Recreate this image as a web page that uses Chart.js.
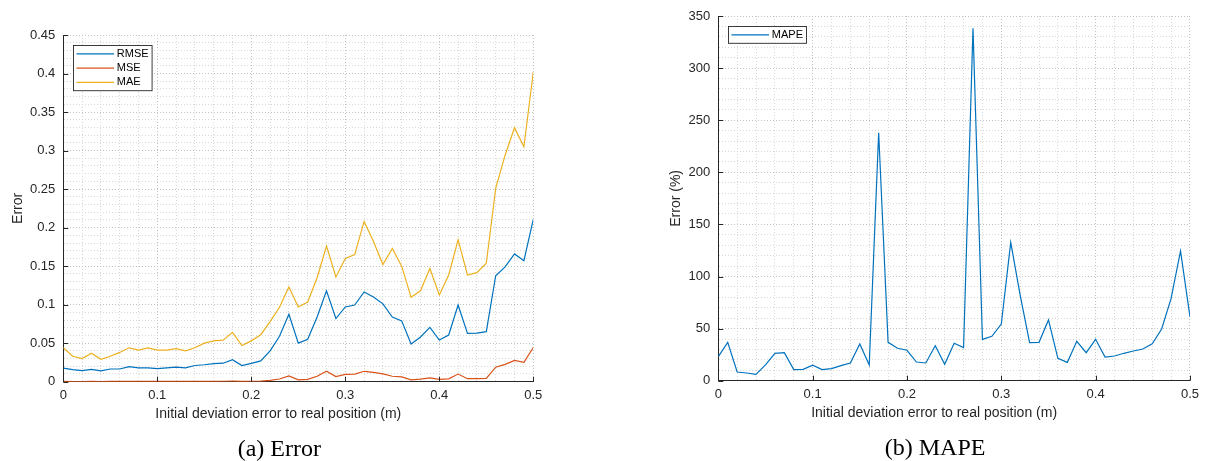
<!DOCTYPE html>
<html>
<head>
<meta charset="utf-8">
<script src="https://cdn.jsdelivr.net/npm/chart.js@4.4.1/dist/chart.umd.min.js"></script>
<style>
  html, body { margin: 0; padding: 0; background: #fff; }
  body { width: 1205px; height: 461px; position: relative; overflow: hidden; }
  .panel { position: absolute; top: 0; }
  #panelA { left: 0; }
  #panelB { left: 660px; }
</style>
</head>
<body>
<div class="panel" id="panelA"><canvas id="errorChart" width="560" height="461"></canvas></div>
<div class="panel" id="panelB"><canvas id="mapeChart" width="545" height="461"></canvas></div>
<script>
// Initial deviation (m) - shared x values of both panels
const deviation = [
    0, 0.01, 0.02, 0.03, 0.04, 0.05, 0.06, 0.07, 0.08, 0.09,
    0.1, 0.11, 0.12, 0.13, 0.14, 0.15, 0.16, 0.17, 0.18, 0.19,
    0.2, 0.21, 0.22, 0.23, 0.24, 0.25, 0.26, 0.27, 0.28, 0.29,
    0.3, 0.31, 0.32, 0.33, 0.34, 0.35, 0.36, 0.37, 0.38, 0.39,
    0.4, 0.41, 0.42, 0.43, 0.44, 0.45, 0.46, 0.47, 0.48, 0.49, 0.5
];

const rmse = [
    0.0175, 0.0156, 0.0145, 0.016, 0.014, 0.0165, 0.0165, 0.0195, 0.018, 0.018,
    0.017, 0.018, 0.019, 0.018, 0.021, 0.022, 0.0235, 0.024, 0.0285, 0.021,
    0.0238, 0.027, 0.040, 0.059, 0.0875, 0.050, 0.055, 0.084, 0.118, 0.082,
    0.097, 0.0995, 0.1164, 0.110, 0.101, 0.084, 0.079, 0.049, 0.058, 0.0706,
    0.054, 0.0606, 0.0996, 0.0628, 0.063, 0.065, 0.1376, 0.149, 0.1658, 0.157, 0.2108
];

const mse = [
    0.0003, 0.0002, 0.0002, 0.0003, 0.0002, 0.0003, 0.0003, 0.0004, 0.0003, 0.0003,
    0.0003, 0.0003, 0.0004, 0.0003, 0.0004, 0.0005, 0.0005, 0.0006, 0.0008, 0.0004,
    0.0006, 0.0007, 0.0016, 0.0035, 0.0076, 0.0025, 0.003, 0.007, 0.0137, 0.0067,
    0.0094, 0.0099, 0.0135, 0.0121, 0.0102, 0.0071, 0.0062, 0.0024, 0.0034, 0.005,
    0.0029, 0.0037, 0.0099, 0.0039, 0.004, 0.0042, 0.0188, 0.0225, 0.0277, 0.0250, 0.0444
];

const mae = [
    0.044, 0.033, 0.030, 0.037, 0.029, 0.033, 0.038, 0.044, 0.041, 0.044,
    0.041, 0.041, 0.043, 0.040, 0.044, 0.050, 0.053, 0.054, 0.064, 0.047,
    0.053, 0.061, 0.078, 0.0966, 0.123, 0.097, 0.1035, 0.135, 0.176, 0.136,
    0.160, 0.165, 0.208, 0.182, 0.152, 0.173, 0.150, 0.1095, 0.118, 0.147,
    0.1125, 0.1385, 0.184, 0.1385, 0.1415, 0.1537, 0.251, 0.294, 0.3297, 0.305, 0.402
];

const mape = [
    23.0, 36.8, 8.3, 7.4, 6.1, 15.1, 26.3, 26.9, 10.6, 10.9,
    14.8, 10.6, 11.6, 14.5, 17.0, 35.2, 15.1, 238.0, 36.8, 31.1,
    29.2, 17.9, 17.0, 33.6, 15.7, 35.9, 31.7, 338.2, 39.7, 42.6,
    54.4, 132.8, 82.2, 36.5, 36.8, 58.3, 21.5, 17.6, 37.8, 26.9,
    39.7, 22.7, 23.7, 26.3, 28.5, 30.4, 35.5, 49.6, 79.0, 124.5, 61.4
];

const xLabel = 'Initial deviation error to real position (m)';
const captionA = '(a) Error';
const captionB = '(b) MAPE';

const SANS = '"Liberation Sans", Arial, Helvetica, sans-serif';
const SERIF = '"Liberation Serif", "Times New Roman", serif';
const AXIS_COLOR = '#262626';

function points(ys) {
    return deviation.map((x, i) => ({ x: x, y: ys[i] }));
}

function isMultiple(v, step) {
    const r = v / step;
    return Math.abs(r - Math.round(r)) < 1e-6;
}

function fmt(v) {
    return String(parseFloat(v.toFixed(3)));
}

// MATLAB-ish look: inward ticks, boxed legend, x label and caption
const matlabAxes = {
    id: 'matlabAxes',
    afterDraw(chart, args, opts) {
        const { ctx, chartArea: a, scales: { x, y } } = chart;
        ctx.save();

        // inward major ticks
        ctx.strokeStyle = AXIS_COLOR;
        ctx.lineWidth = 1;
        ctx.beginPath();
        x.ticks.filter(t => isMultiple(t.value, opts.xMajor)).forEach(t => {
            const px = Math.round(x.getPixelForValue(t.value)) + 0.5;
            ctx.moveTo(px, a.bottom);
            ctx.lineTo(px, a.bottom - 5);
        });
        y.ticks.filter(t => isMultiple(t.value, opts.yMajor)).forEach(t => {
            const py = Math.round(y.getPixelForValue(t.value)) + 0.5;
            ctx.moveTo(a.left, py);
            ctx.lineTo(a.left + 5, py);
        });
        ctx.stroke();

        // legend box
        const sets = chart.data.datasets;
        ctx.font = '11px ' + SANS;
        const textW = Math.max(...sets.map(d => ctx.measureText(d.label).width));
        const lx = Math.round(a.left + 10) + 0.5;
        const ly = Math.round(a.top + 10) + 0.5;
        const rowH = 14.2;
        const w = 43.3 + textW + 3.5;
        const h = 8.4 * 2 + (sets.length - 1) * rowH;
        ctx.fillStyle = '#ffffff';
        ctx.fillRect(lx, ly, w, h);
        ctx.strokeStyle = AXIS_COLOR;
        ctx.lineWidth = 0.9;
        ctx.strokeRect(lx, ly, w, h);
        sets.forEach((d, i) => {
            const ry = ly + 8.4 + i * rowH;
            ctx.strokeStyle = d.borderColor;
            ctx.lineWidth = d.borderWidth;
            ctx.beginPath();
            ctx.moveTo(lx + 3, ry);
            ctx.lineTo(lx + 40.5, ry);
            ctx.stroke();
            ctx.fillStyle = '#000000';
            ctx.textAlign = 'left';
            ctx.textBaseline = 'middle';
            ctx.fillText(d.label, lx + 43.3, ry);
        });

        // x axis label and sub-figure caption
        const cx = (a.left + a.right) / 2 - 20;
        ctx.textAlign = 'center';
        ctx.textBaseline = 'alphabetic';
        ctx.fillStyle = AXIS_COLOR;
        ctx.font = '14px ' + SANS;
        ctx.fillText(xLabel, cx, a.bottom + 36);
        ctx.fillStyle = '#000000';
        ctx.font = '24px ' + SERIF;
        ctx.fillText(opts.caption, cx + 1, a.bottom + 74.5);
        ctx.restore();
    }
};

function gridColor(step) {
    return (c) => (c.tick && isMultiple(c.tick.value, step)) ? '#c2c2c2' : '#d8d8d8';
}

function buildOptions(cfg) {
    return {
        responsive: false,
        animation: false,
        layout: {
            padding: { left: 0, top: cfg.top, right: cfg.width - cfg.right, bottom: 0 }
        },
        plugins: {
            legend: { display: false },
            tooltip: { enabled: false },
            matlabAxes: { xMajor: 0.1, yMajor: cfg.yMajor, caption: cfg.caption }
        },
        scales: {
            x: {
                type: 'linear',
                min: 0,
                max: 0.5,
                afterFit: (s) => { s.height = cfg.height - cfg.bottom; },
                ticks: {
                    stepSize: 0.02,
                    maxTicksLimit: 100,
                    autoSkip: false,
                    maxRotation: 0,
                    padding: 6,
                    color: AXIS_COLOR,
                    font: { family: SANS, size: 13 },
                    callback: (v) => isMultiple(v, 0.1) ? fmt(v) : ''
                },
                grid: { drawTicks: false, color: gridColor(0.1), lineWidth: 1 },
                border: { display: true, color: AXIS_COLOR, width: 1, dash: [1, 2] }
            },
            y: {
                type: 'linear',
                min: 0,
                max: cfg.yMax,
                afterFit: (s) => { s.width = cfg.left; },
                title: {
                    display: true,
                    text: cfg.yTitle,
                    color: AXIS_COLOR,
                    font: { family: SANS, size: 14 },
                    padding: { top: cfg.yTitlePad, bottom: 0 }
                },
                ticks: {
                    stepSize: cfg.yMinor,
                    maxTicksLimit: 100,
                    autoSkip: false,
                    padding: 8,
                    color: AXIS_COLOR,
                    font: { family: SANS, size: 13 },
                    callback: (v) => isMultiple(v, cfg.yMajor) ? fmt(v) : ''
                },
                grid: { drawTicks: false, color: gridColor(cfg.yMajor), lineWidth: 1 },
                border: { display: true, color: AXIS_COLOR, width: 1, dash: [1, 2] }
            }
        }
    };
}

function lineSet(label, ys, color) {
    return {
        label: label,
        data: points(ys),
        borderColor: color,
        backgroundColor: color,
        borderWidth: 1.2,
        pointRadius: 0,
        tension: 0,
        fill: false
    };
}

new Chart(document.getElementById('errorChart'), {
    type: 'line',
    data: {
        datasets: [
            lineSet('RMSE', rmse, '#0072BD'),
            lineSet('MSE', mse, '#D95319'),
            lineSet('MAE', mae, '#EDB120')
        ]
    },
    options: buildOptions({
        width: 560, height: 461,
        left: 63.3, right: 533.3, top: 35, bottom: 381.7,
        yMax: 0.45, yMinor: 0.01, yMajor: 0.05,
        yTitle: 'Error', yTitlePad: 9.6, caption: captionA
    }),
    plugins: [matlabAxes]
});

new Chart(document.getElementById('mapeChart'), {
    type: 'line',
    data: {
        datasets: [
            lineSet('MAPE', mape, '#0072BD')
        ]
    },
    options: buildOptions({
        width: 545, height: 461,
        left: 58.3, right: 530, top: 16, bottom: 380.7,
        yMax: 350, yMinor: 10, yMajor: 50,
        yTitle: 'Error (%)', yTitlePad: 8.2, caption: captionB
    }),
    plugins: [matlabAxes]
});
</script>
</body>
</html>
